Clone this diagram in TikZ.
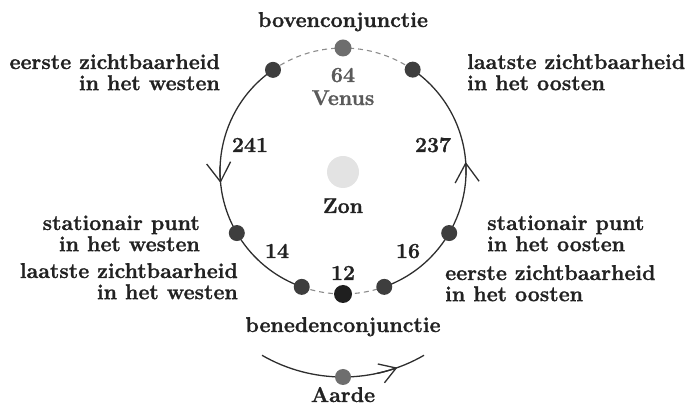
\documentclass[tikz,border=0pt]{standalone}
\usepackage{fontspec}
\setmainfont{Latin Modern Roman}[BoldFeatures={FakeBold=1.2}]
\usetikzlibrary{arrows.meta}
\definecolor{ink}{HTML}{222222}
\definecolor{orbitc}{HTML}{2E2E2E}
\definecolor{dashc}{HTML}{8C8C8C}
\definecolor{dotc}{HTML}{3E3E3E}
\definecolor{venusc}{HTML}{6E6E6E}
\definecolor{lowc}{HTML}{1F1F1F}
\definecolor{sunc}{HTML}{E3E3E3}
\definecolor{labgray}{HTML}{5A5A5A}
\begin{document}
\begin{tikzpicture}[x=1pt,y=1pt,
  orbit/.style={draw=orbitc,line width=1.3pt},
  dashedorbit/.style={draw=dashc,line width=1.1pt,dash pattern=on 5pt off 4pt},
  dot/.style={circle,fill=dotc,inner sep=0pt,minimum size=16pt},
  lab/.style={inner sep=0pt,text=ink,font=\fontsize{21.4}{21}\selectfont\bfseries},
  barb/.style={-{Straight Barb[length=19pt,width=24pt,line width=1.3pt]}},
  ebarb/.style={-{Straight Barb[length=16pt,width=20pt,line width=1.3pt]}}
]
\useasboundingbox (0,0) rectangle (687,406);
% centres
\coordinate (c) at (343,235);
\coordinate (ce) at (343,191);
% positions of Venus on its orbit
\coordinate (top) at ([shift={(90:123)}]c);
\coordinate (ul)  at ([shift={(124.7:123)}]c);
\coordinate (ur)  at ([shift={(55.5:123)}]c);
\coordinate (lw)  at ([shift={(210.3:123)}]c);
\coordinate (lo)  at ([shift={(329.7:123)}]c);
\coordinate (ll)  at ([shift={(250.4:123)}]c);
\coordinate (lr)  at ([shift={(289.6:123)}]c);
\coordinate (bot) at ([shift={(270:123)}]c);
\coordinate (aw)  at ([shift={(178:123)}]c);
\coordinate (ao)  at ([shift={(358:123)}]c);
\coordinate (es)  at ([shift={(240:162)}]ce);
\coordinate (ea)  at ([shift={(282:162)}]ce);
\coordinate (earth) at ([shift={(270:162)}]ce);

% Sun
\node[circle,fill=sunc,inner sep=0pt,minimum size=32pt] (sun) at (343,234) {};

% orbit arcs
\draw[orbit] (ul) arc[start angle=124.7,end angle=250.4,radius=123];
\draw[orbit] (lr) arc[start angle=289.6,end angle=415.5,radius=123];
\draw[orbit,barb] (aw) arc[start angle=178,end angle=185.6,radius=123];
\draw[orbit,barb] (ao) arc[start angle=358,end angle=364.2,radius=123];
\draw[dashedorbit] (ur) arc[start angle=55.5,end angle=124.7,radius=123];
\draw[dashedorbit] (ll) arc[start angle=250.4,end angle=289.6,radius=123];

% Earth orbit
\draw[orbit] (es) arc[start angle=240,end angle=300,radius=162];
\draw[orbit,ebarb] (ea) arc[start angle=282,end angle=289.6,radius=162];

% dots
\node[dot,fill=venusc,minimum size=17pt] (topdot) at (top) {};
\node[dot] (uldot) at (ul) {};
\node[dot] (urdot) at (ur) {};
\node[dot] (lwdot) at (lw) {};
\node[dot] (lodot) at (lo) {};
\node[dot] (lldot) at (ll) {};
\node[dot] (lrdot) at (lr) {};
\node[dot,fill=lowc,minimum size=18pt] (botdot) at (bot) {};
\node[dot,fill=venusc] (earthdot) at (earth) {};

% labels
\node[lab,anchor=base] (boven) at (343,379) {bovenconjunctie};
\node[lab,anchor=base east] (ezw) at (220,337) {\begin{tabular}[t]{@{}r@{}}eerste zichtbaarheid\\in het westen\end{tabular}};
\node[lab,anchor=base west] (lzo) at (467,337) {\begin{tabular}[t]{@{}l@{}}laatste zichtbaarheid\\in het oosten\end{tabular}};
\node[lab,anchor=base,text=labgray] (n64) at (343,324) {64};
\node[lab,anchor=base,text=labgray] (venus) at (343,301) {Venus};
\node[lab,anchor=base] (n241) at (250,254) {241};
\node[lab,anchor=base] (n237) at (433,254) {237};
\node[lab,anchor=base] (zon) at (343,193) {Zon};
\node[lab,anchor=base east] (spw) at (200,176) {\begin{tabular}[t]{@{}r@{}}stationair punt\\in het westen\end{tabular}};
\node[lab,anchor=base west] (spo) at (487,176) {\begin{tabular}[t]{@{}l@{}}stationair punt\\in het oosten\end{tabular}};
\node[lab,anchor=base] (n14) at (277,148) {14};
\node[lab,anchor=base] (n16) at (408,148) {16};
\node[lab,anchor=base] (n12) at (343,126) {12};
\node[lab,anchor=base east] (lzw) at (238,128) {\begin{tabular}[t]{@{}r@{}}laatste zichtbaarheid\\in het westen\end{tabular}};
\node[lab,anchor=base west] (ezo) at (445,126) {\begin{tabular}[t]{@{}l@{}}eerste zichtbaarheid\\in het oosten\end{tabular}};
\node[lab,anchor=base] (beneden) at (343,74) {benedenconjunctie};
\node[lab,anchor=base] (aarde) at (343,4) {Aarde};
\end{tikzpicture}
\end{document}
